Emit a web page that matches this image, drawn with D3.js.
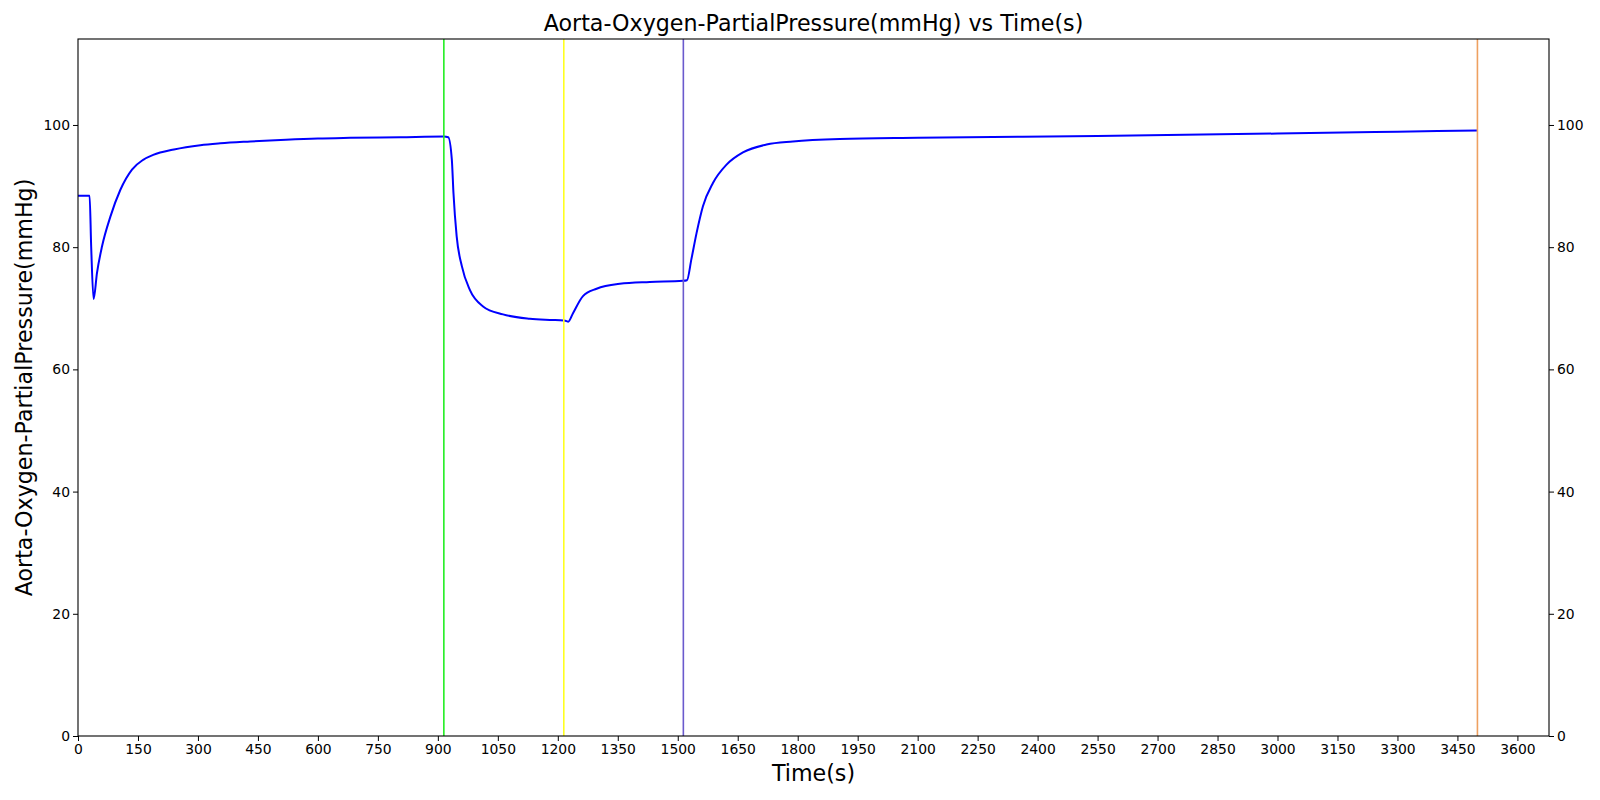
<!DOCTYPE html>
<html>
<head>
<meta charset="utf-8">
<script src="https://cdn.jsdelivr.net/npm/d3@7"></script>
<style>
  body { margin: 0; background: #fff; }
  svg { display: block; font-family: "DejaVu Sans", sans-serif; }
</style>
</head>
<body>
<svg id="chart" width="1600" height="800"></svg>
<script>
// ---- data ----
const times = [0, 29, 33, 39, 47.5, 60, 81, 106, 135, 163, 188, 240, 306, 356, 431, 520, 600, 681, 806, 915, 926, 935, 939, 947, 960, 980, 1013, 1063, 1130, 1180, 1215, 1222, 1226, 1238, 1263, 1297, 1355, 1430, 1513, 1523, 1534, 1547, 1563, 1588, 1622, 1663, 1722, 1788, 1905, 2100, 2550, 3000, 3300, 3500];
const values = [88.4, 88.4, 80, 71.5, 75.8, 80.1, 85.0, 89.4, 92.7, 94.3, 95.1, 96.0, 96.7, 97.0, 97.3, 97.6, 97.8, 97.9, 98.0, 98.1, 98.0, 94.3, 88.9, 81.8, 76.9, 73.0, 70.3, 69.0, 68.3, 68.1, 68.0, 67.9, 67.8, 69.2, 72.0, 73.2, 74.0, 74.3, 74.5, 74.6, 78.0, 82.3, 86.7, 90.5, 93.5, 95.5, 96.8, 97.3, 97.7, 97.9, 98.2, 98.6, 98.9, 99.1];
const eventTimes = [915, 1215, 1514, 3500];
const eventColors = ["#22ee22", "#ffff22", "#6a5acd", "#eea060"];
const xTicks = d3.range(0, 3601, 150);
const yTicks = [0, 20, 40, 60, 80, 100];

// ---- layout ----
const L = 78, R = 1549, T = 39, B = 736;
const svg = d3.select("#chart");
const x = d3.scaleLinear().domain([0, 3679]).range([L, R]);
const y = d3.scaleLinear().domain([0, 114.07]).range([B, T]);

// data line
const line = d3.line().x((d, i) => x(times[i])).y(d => y(d)).curve(d3.curveMonotoneX);
svg.append("path").datum(values)
  .attr("d", line).attr("fill", "none").attr("stroke", "#0000ff").attr("stroke-width", 2);

// event lines
svg.selectAll("line.ev").data(eventTimes).enter().append("line")
  .attr("class", "ev")
  .attr("x1", d => x(d)).attr("x2", d => x(d))
  .attr("y1", T).attr("y2", B)
  .attr("stroke", (d, i) => eventColors[i]).attr("stroke-width", 1.6);

// axes
const fs = 13.9;
const xAxis = d3.axisBottom(x).tickValues(xTicks).tickSize(5).tickPadding(3).tickFormat(d3.format("d"));
const gx = svg.append("g").attr("transform", `translate(0,${B})`).call(xAxis);
const yAxisL = d3.axisLeft(y).tickValues(yTicks).tickSize(5).tickPadding(3).tickFormat(d3.format("d"));
const gyl = svg.append("g").attr("transform", `translate(${L},0)`).call(yAxisL);
const yAxisR = d3.axisRight(y).tickValues(yTicks).tickSize(5).tickPadding(3).tickFormat(d3.format("d"));
const gyr = svg.append("g").attr("transform", `translate(${R},0)`).call(yAxisR);
[gx, gyl, gyr].forEach(g => {
  g.select(".domain").remove();
  g.selectAll("text").attr("font-size", fs).attr("font-family", "DejaVu Sans, sans-serif").attr("fill", "#000");
  g.selectAll("line").attr("stroke", "#000").attr("stroke-width", 1);
});

// frame
svg.append("rect").attr("x", L).attr("y", T).attr("width", R - L).attr("height", B - T)
  .attr("fill", "none").attr("stroke", "#000").attr("stroke-width", 1.1);

// titles
svg.append("text").attr("x", (L + R) / 2).attr("y", 31).attr("text-anchor", "middle")
  .attr("font-size", 22.2).text("Aorta-Oxygen-PartialPressure(mmHg) vs Time(s)");
svg.append("text").attr("x", (L + R) / 2).attr("y", 781).attr("text-anchor", "middle")
  .attr("font-size", 22.2).text("Time(s)");
svg.append("text").attr("transform", `translate(32,${(T + B) / 2}) rotate(-90)`).attr("text-anchor", "middle")
  .attr("font-size", 22.2).text("Aorta-Oxygen-PartialPressure(mmHg)");
</script>
</body>
</html>
